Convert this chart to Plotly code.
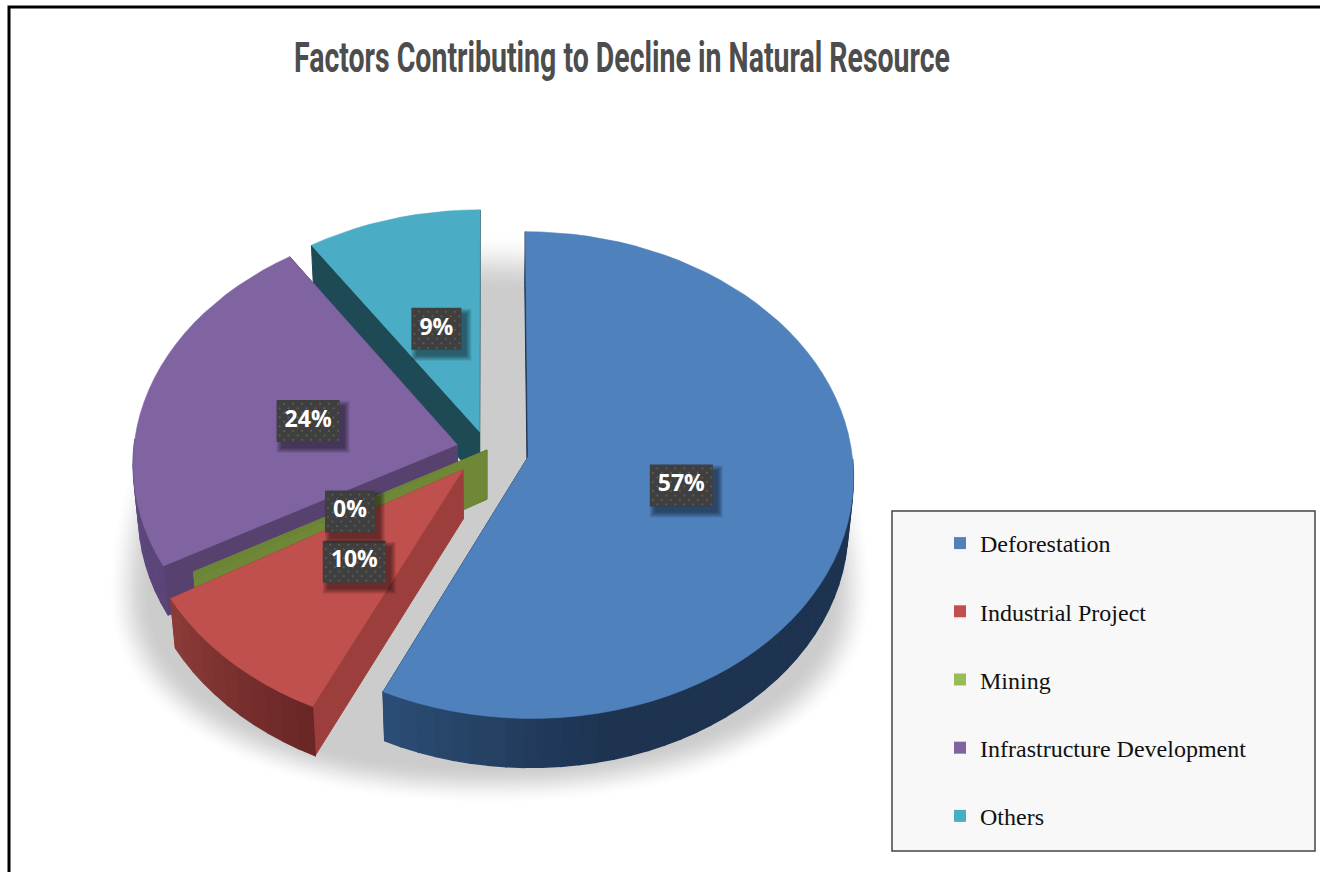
import math
import plotly.graph_objects as go

# ---- data ----
categories = ["Deforestation", "Industrial Project", "Mining", "Infrastructure Development", "Others"]
values = [57, 9.51, 0.4, 23.7, 9.39]
explosion = [0.13, 0.11, 0.0, 0.095, 0.08]
legend_colors = ["#4f81bd", "#c0504d", "#9bbb59", "#8064a2", "#4bacc6"]
top_colors = ["#4f81bd", "#c0504d", "#6b8537", "#8064a2", "#4bacc6"]
side_start = ["#1d3350", "#6a2726", "#6f8737", "#5a4478", "#1d4a55"]
side_end = ["#2b4c74", "#8a3b38", "#6f8737", "#6a5590", "#1d4a55"]
face_colors = ["#1d3350", "#9c3f3c", "#6f8737", "#57416e", "#1d4a55"]
draw_order = [4, 3, 2, 1, 0]
title_text = "Factors Contributing to Decline in Natural Resource"

# ---- projection of the tilted pie ----
CX, CY, A, K, H, P, R = 487, 450, 323.5, 241, 50, 0.0747, 0.015
SHADOW_X, SHADOW_Y = 490, 590


def proj(u, v, z=0.0):
    w = 1 + P * v + R * z
    return CX + A * u / w, CY + (-K * v + H * z) / w


def hexrgb(c):
    return tuple(int(c[i:i + 2], 16) for i in (1, 3, 5))


def mix(c1, c2, t):
    a, b = hexrgb(c1), hexrgb(c2)
    return "rgb(%d,%d,%d)" % tuple(round(a[i] + (b[i] - a[i]) * t) for i in range(3))


fig = go.Figure()


def poly(pts, color, lw=1.0):
    fig.add_trace(go.Scatter(
        x=[p[0] for p in pts] + [pts[0][0]], y=[p[1] for p in pts] + [pts[0][1]],
        mode="lines", fill="toself", fillcolor=color, line=dict(color=color, width=lw),
        hoverinfo="skip", showlegend=False))


# soft shadow under the pie: nested outlines from the blurred rim to the core
LAYERS = 22
EXP = 2.2
for i in range(LAYERS):
    t = (i + 1) / LAYERS
    s = t * t * (3 - 2 * t)
    a, bu, bl = 384 - 44 * t, 358 - 58 * t, 216 - 40 * t
    pts = []
    for d in range(0, 360, 3):
        r = math.radians(d)
        sn, cs = math.sin(r), math.cos(r)
        if sn > 0:
            pts.append((SHADOW_X + a * cs, SHADOW_Y - bu * sn))
        else:
            e = 2 / EXP
            pts.append((SHADOW_X + a * math.copysign(abs(cs) ** e, cs), SHADOW_Y + bl * abs(sn) ** e))
    poly(pts, mix("#ffffff", "#cccccc", s), 0)

# slices, back to front
total = sum(values)
starts = []
acc = 0.0
for v in values:
    starts.append(acc)
    acc += v / total * 2 * math.pi
apexes = []
for i, v in enumerate(values):
    a0 = starts[i]
    a1 = a0 + v / total * 2 * math.pi
    mid = (a0 + a1) / 2
    apexes.append((explosion[i] * math.sin(mid), explosion[i] * math.cos(mid), mid))

for i in draw_order:
    a0 = starts[i]
    a1 = a0 + values[i] / total * 2 * math.pi
    ax, ay, _ = apexes[i]
    n = max(2, int((a1 - a0) / math.radians(3)))
    angles = [a0 + (a1 - a0) * k / n for k in range(n + 1)]
    rim = [(ax + math.sin(q), ay + math.cos(q)) for q in angles]
    # radial faces
    for e in (rim[0], rim[-1]):
        poly([proj(ax, ay), proj(*e), proj(e[0], e[1], 1), proj(ax, ay, 1)], face_colors[i])
    # outer wall (only the part that faces the viewer)
    for k in range(n):
        if math.cos((angles[k] + angles[k + 1]) / 2) > 0.0:
            continue
        t = k / max(1, n - 1)
        if i == 0:
            t = max(0.0, (t - 0.82) / 0.18)
        poly([proj(*rim[k]), proj(*rim[k + 1]), proj(rim[k + 1][0], rim[k + 1][1], 1), proj(rim[k][0], rim[k][1], 1)],
             mix(side_start[i], side_end[i], t), 1.4)
    # top cap
    poly([proj(ax, ay)] + [proj(*p) for p in rim], top_colors[i], 0.6)

# data labels
LABEL_R = 0.48
lx, ly, lt = [], [], []
dots_x, dots_y = [], []
for i, v in enumerate(values):
    ax, ay, mid = apexes[i]
    x, y = proj(ax + LABEL_R * math.sin(mid), ay + LABEL_R * math.cos(mid), 0.06)
    txt = f"{round(v)}%"
    hw = 31.5 if len(txt) == 3 else 25
    hh = 21
    for k in range(6):
        g = 5 - k
        poly([(x - hw + 5 - g, y - hh + 6 - g), (x + hw + 5 + g, y - hh + 6 - g),
              (x + hw + 5 + g, y + hh + 6 + g), (x - hw + 5 - g, y + hh + 6 + g)], "rgba(0,0,0,0.09)", 0)
    poly([(x - hw, y - hh), (x + hw, y - hh), (x + hw, y + hh), (x - hw, y + hh)], "#3f3f3f", 0)
    row = 0
    yy = y - hh + 4
    while yy < y + hh:
        xx = x - hw + (3 if row % 2 else 7.5)
        while xx < x + hw - 1:
            dots_x.append(xx)
            dots_y.append(yy)
            xx += 9
        yy += 4.5
        row += 1
    lx.append(x)
    ly.append(y)
    lt.append(txt)
fig.add_trace(go.Scatter(x=dots_x, y=dots_y, mode="markers", marker=dict(size=2.2, color="#5a5a5a"),
                         hoverinfo="skip", showlegend=False))
fig.add_trace(go.Scatter(x=lx, y=ly, text=lt, mode="text", textposition="middle center",
                         textfont=dict(family="Open Sans", size=23, color="white", weight="bold"),
                         hoverinfo="skip", showlegend=False))

# legend entries
for name, c in zip(categories, legend_colors):
    fig.add_trace(go.Scatter(x=[None], y=[None], mode="markers", name=name, legendgroup=name,
                             marker=dict(symbol="square", size=12, color=c)))

fig.update_layout(
    width=1320, height=872, margin=dict(l=0, r=0, t=0, b=0),
    paper_bgcolor="white", plot_bgcolor="white",
    xaxis=dict(range=[0, 1320], visible=False, fixedrange=True),
    yaxis=dict(range=[872, 0], visible=False, fixedrange=True),
    title=dict(text=title_text, x=622 / 1320, xanchor="center", y=1 - 57 / 872, yanchor="middle",
               font=dict(family="Roboto", size=42, color="#4d4d4d", weight="bold")),
    legend=dict(x=940 / 1320, y=1 - 521 / 872, xanchor="left", yanchor="top", bgcolor="rgba(0,0,0,0)",
                font=dict(family="Liberation Serif", size=24, color="#111111"),
                tracegroupgap=34, itemclick=False, itemdoubleclick=False),
    shapes=[
        dict(type="rect", x0=892, x1=1315, y0=511, y1=851, fillcolor="#f8f8f8",
             line=dict(color="#444444", width=1.5), layer="below"),
        dict(type="rect", x0=9, x1=1500, y0=7, y1=1000, line=dict(color="black", width=3), layer="above"),
    ],
)

squeeze = """
document.body.style.margin='0';
var t=document.querySelector('.gtitle');
if(t){var b=t.getBBox();var cx=b.x+b.width/2;var sx=656/b.width;
t.setAttribute('transform','translate('+cx+',0) scale('+sx+',1) translate('+(-cx)+',0)');}
"""
fig.write_html("out.html", config=dict(displayModeBar=False), post_script=squeeze)
